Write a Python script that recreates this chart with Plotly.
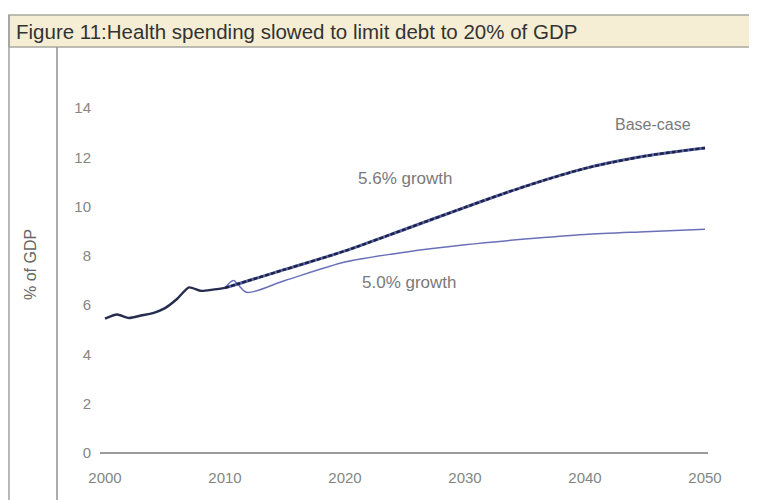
import plotly.graph_objects as go

# ---- data ----
hist_years = [2000, 2001, 2002, 2003, 2004, 2005, 2006, 2007, 2008, 2009, 2010]
hist_values = [5.45, 5.62, 5.48, 5.58, 5.68, 5.88, 6.25, 6.72, 6.58, 6.63, 6.70]

base_years = [2010, 2011, 2012, 2015, 2020, 2025, 2030, 2035, 2040, 2045, 2050]
base_values = [6.70, 6.85, 7.00, 7.45, 8.20, 9.08, 9.97, 10.82, 11.55, 12.05, 12.38]

low_years = [2010, 2010.7, 2011.8, 2015, 2020, 2025, 2030, 2035, 2040, 2045, 2050]
low_values = [6.70, 7.00, 6.52, 7.00, 7.75, 8.15, 8.45, 8.68, 8.87, 8.98, 9.08]

x_ticks = [2000, 2010, 2020, 2030, 2040, 2050]
y_ticks = [0, 2, 4, 6, 8, 10, 12, 14]

title_text = "Figure 11:Health spending slowed to limit debt to 20% of GDP"
y_title = "% of GDP"

FONT = "Liberation Sans, Arial, sans-serif"
W, H = 757, 500
OFF = 8  # page body margin offset
PL, PR, PT, PB = 100 - OFF, 708 - OFF, 100 - OFF, 460 - OFF  # plot area in figure pixels
X2000 = 105 - OFF
Y0 = 453 - OFF
PX_YR = 12.0
PX_UNIT = 24.64

fig = go.Figure()

fig.add_trace(go.Scatter(x=low_years, y=low_values, mode="lines",
                         line=dict(color="#6a70b8", width=1.5, shape="spline", smoothing=0.8),
                         name="5.0% growth", hoverinfo="skip"))
fig.add_trace(go.Scatter(x=base_years, y=base_values, mode="lines",
                         line=dict(color="#5864ad", width=3, shape="spline", smoothing=0.8),
                         name="5.6% growth", hoverinfo="skip"))
fig.add_trace(go.Scatter(x=base_years, y=base_values, mode="lines",
                         line=dict(color="#1d2240", width=2.4, dash="4px,2px", shape="spline", smoothing=0.8),
                         name="Base-case", hoverinfo="skip"))
fig.add_trace(go.Scatter(x=hist_years, y=hist_values, mode="lines",
                         line=dict(color="#262c4e", width=2.4, shape="spline", smoothing=0.6),
                         name="History", hoverinfo="skip"))

x0 = 2000 + (PL - X2000) / PX_YR
x1 = 2000 + (PR - X2000) / PX_YR
y0 = (Y0 - PB) / PX_UNIT
y1 = (Y0 - PT) / PX_UNIT


def px(xp):
    return (xp - OFF - PL) / (PR - PL)


def py(yp):
    return (PB - (yp - OFF)) / (PB - PT)


fig.update_layout(
    width=W, height=H,
    margin=dict(l=PL, r=W - PR, t=PT, b=H - PB, pad=0),
    paper_bgcolor="white", plot_bgcolor="white",
    showlegend=False,
    font=dict(family=FONT, color="#808080", size=15),
    xaxis=dict(range=[x0, x1], tickvals=x_ticks, ticktext=[str(t) for t in x_ticks],
               showgrid=False, zeroline=False, showline=False, ticks="",
               tickfont=dict(size=15, color="#858585"), ticklabelstandoff=7, fixedrange=True),
    yaxis=dict(range=[y0, y1], tickvals=y_ticks, ticktext=[str(t) for t in y_ticks],
               showgrid=False, zeroline=True, zerolinecolor="#9a9a9a", zerolinewidth=1.5,
               showline=False, ticks="", tickfont=dict(size=15, color="#858585"),
               ticklabelstandoff=8, fixedrange=True),
    shapes=[
        dict(type="rect", xref="paper", yref="paper",
             x0=px(9), x1=px(W + 20), y0=py(47), y1=py(15),
             fillcolor="#f6eed4", line=dict(color="#a8a8a0", width=1.5), layer="below"),
        dict(type="line", xref="paper", yref="paper",
             x0=px(9), x1=px(9), y0=py(15), y1=py(520),
             line=dict(color="#a0a0a0", width=1.5)),
        dict(type="line", xref="paper", yref="paper",
             x0=px(57), x1=px(57), y0=py(47), y1=py(520),
             line=dict(color="#909090", width=1.5)),
    ],
    annotations=[
        dict(text=title_text, xref="paper", yref="paper",
             x=px(14), y=py(31), xanchor="left", yanchor="middle", showarrow=False,
             font=dict(family=FONT, size=20.5, color="#333333")),
        dict(text=y_title, xref="paper", yref="paper",
             x=px(30), y=py(265), xanchor="center", yanchor="middle", showarrow=False,
             textangle=-90, font=dict(family=FONT, size=16, color="#666666")),
        dict(text="Base-case", x=2045.7, y=13.35, xanchor="center", yanchor="middle",
             showarrow=False, font=dict(family=FONT, size=16, color="#7a7a7a")),
        dict(text="5.6% growth", x=2025.0, y=11.16, xanchor="center", yanchor="middle",
             showarrow=False, font=dict(family=FONT, size=17, color="#7a7a7a")),
        dict(text="5.0% growth", x=2025.4, y=6.9, xanchor="center", yanchor="middle",
             showarrow=False, font=dict(family=FONT, size=17, color="#7a7a7a")),
    ],
)

fig.write_html("out.html")
